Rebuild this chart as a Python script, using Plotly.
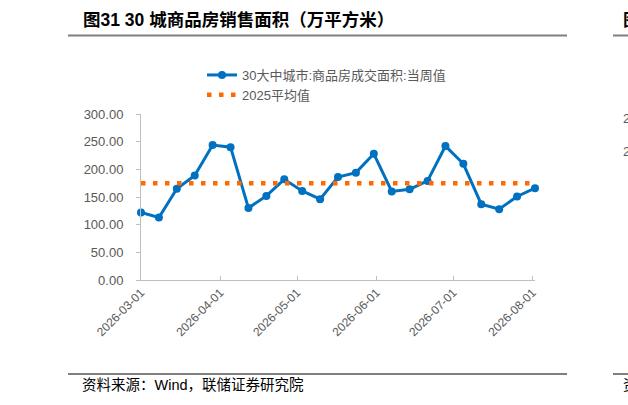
import plotly.graph_objects as go

# ---- data ----
dates = ["2026-03-01", "2026-03-08", "2026-03-15", "2026-03-22", "2026-03-29",
         "2026-04-05", "2026-04-12", "2026-04-19", "2026-04-26", "2026-05-03",
         "2026-05-10", "2026-05-17", "2026-05-24", "2026-05-31", "2026-06-07",
         "2026-06-14", "2026-06-21", "2026-06-28", "2026-07-05", "2026-07-12",
         "2026-07-19", "2026-07-26", "2026-08-02"]
weekly_area = [122, 113, 165, 189, 244, 240, 130, 152, 182, 161, 146, 186,
               194, 228, 160, 164, 179, 242, 210, 137, 128, 151, 166]
avg_2025 = 175
tick_dates = ["2026-03-01", "2026-04-01", "2026-05-01", "2026-06-01",
              "2026-07-01", "2026-08-01"]
y_ticks = [0, 50, 100, 150, 200, 250, 300]

series_name = "30大中城市:商品房成交面积:当周值"
avg_name = "2025平均值"
title_text = "图31 30 城商品房销售面积（万平方米）"
source_text = "资料来源：Wind，联储证券研究院"

W, H = 628, 405
L, R, T, B = 141, 93, 114, 125
pw, ph = W - L - R, H - T - B

def px_x(x):
    return (x - L) / pw

def px_y(y):
    return (H - B - y) / ph

fig = go.Figure()
fig.add_trace(go.Scatter(
    x=dates, y=weekly_area, name=series_name, mode="lines+markers",
    line=dict(color="#0070C0", width=3),
    marker=dict(color="#0070C0", size=8),
    cliponaxis=False,
))
fig.add_trace(go.Scatter(
    x=[dates[0], dates[-1]], y=[avg_2025, avg_2025], name=avg_name, mode="lines",
    line=dict(color="#FF6A00", width=4.5, dash="4.5px,7.5px"),
    cliponaxis=False,
))

font_cjk = "Liberation Sans, Arial, Noto Sans CJK SC, sans-serif"
gray = "#595959"
axis_col = "#BFBFBF"

fig.update_layout(
    width=W, height=H,
    margin=dict(l=L, r=R, t=T, b=B, autoexpand=False),
    paper_bgcolor="white", plot_bgcolor="white",
    font=dict(family=font_cjk, color=gray, size=13),
    showlegend=True,
    legend=dict(
        x=px_x(202), y=px_y(60), xanchor="left", yanchor="top",
        bgcolor="rgba(0,0,0,0)", font=dict(size=13, color=gray),
        tracegroupgap=0,
    ),
    xaxis=dict(
        type="date", range=["2026-03-01", "2026-08-02"],
        tickvals=tick_dates, ticktext=tick_dates, tickangle=-45,
        ticks="inside", ticklen=4, tickcolor=axis_col,
        showline=True, linecolor=axis_col, linewidth=1,
        showgrid=False, zeroline=False,
        tickfont=dict(size=12, color=gray), automargin=False,
    ),
    yaxis=dict(
        range=[0, 300], tickvals=y_ticks, tickformat=".2f",
        ticks="outside", ticklen=4, tickcolor=axis_col,
        showline=True, linecolor=axis_col, linewidth=1,
        showgrid=False, zeroline=False, ticklabelstandoff=10,
        tickfont=dict(size=13, color=gray), automargin=False,
    ),
)

annotations = [
    dict(text="<b>" + title_text + "</b>", x=px_x(81), y=px_y(19.5),
         xanchor="left", yanchor="middle",
         font=dict(size=17.5, color="#000000", family=font_cjk)),
    dict(text=source_text, x=px_x(80), y=px_y(385),
         xanchor="left", yanchor="middle",
         font=dict(size=14.5, color="#000000", family=font_cjk)),
    dict(text="<b>图</b>", x=px_x(621), y=px_y(19.5), xanchor="left", yanchor="middle",
         font=dict(size=17.5, color="#000000", family=font_cjk)),
    dict(text="资", x=px_x(621), y=px_y(385), xanchor="left", yanchor="middle",
         font=dict(size=14.5, color="#000000", family=font_cjk)),
    dict(text="2", x=px_x(621), y=px_y(118), xanchor="left", yanchor="middle",
         font=dict(size=13, color=gray)),
    dict(text="2", x=px_x(621), y=px_y(151), xanchor="left", yanchor="middle",
         font=dict(size=13, color=gray)),
]
for a in annotations:
    a.update(xref="paper", yref="paper", showarrow=False)
fig.update_layout(annotations=annotations)

shapes = []
for (x0, x1, y) in [(68, 567, 35.5), (68, 567, 374), (613, 640, 35.5), (613, 640, 374)]:
    shapes.append(dict(type="line", xref="paper", yref="paper",
                       x0=px_x(x0), x1=px_x(x1), y0=px_y(y), y1=px_y(y),
                       line=dict(color="#7F7F7F", width=2)))
fig.update_layout(shapes=shapes)

fig.write_html("out.html", config={"displayModeBar": False},
               post_script="document.body.style.margin='0';document.body.style.overflow='hidden';")
